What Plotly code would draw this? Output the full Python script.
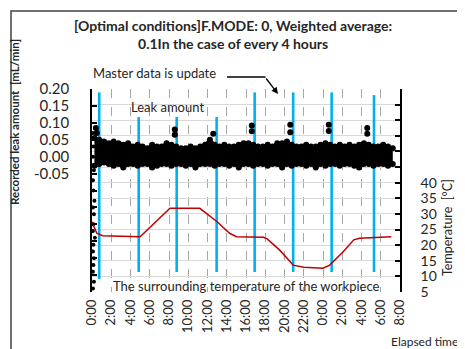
import plotly.graph_objects as go

# ---------------- data ----------------
x_tick_vals = [0, 2, 4, 6, 8, 10, 12, 14, 16, 18, 20, 22, 24, 26, 28, 30, 32]
x_tick_text = ["0:00", "2:00", "4:00", "6:00", "8:00", "10:00", "12:00", "14:00",
               "16:00", "18:00", "20:00", "22:00", "0:00", "2:00", "4:00", "6:00", "8:00"]

leak_tick_vals = [-0.4, -0.35, -0.3, -0.25, -0.2, -0.15, -0.1, -0.05, 0.0, 0.05, 0.1, 0.15, 0.2]
leak_tick_text = ["", "", "", "", "", "", "", "-0.05", "0.00", "0.05", "0.10", "0.15", "0.20"]

temp_tick_vals = [5, 10, 15, 20, 25, 30, 35, 40, 45, 50, 55, 60, 65, 70]
temp_tick_text = ["5", "10", "15", "20", "25", "30", "35", "40", "", "", "", "", "", ""]

# leak amount: envelope of the dense noise band (hours, mL/min)
band_t = [0.25, 0.75, 1.25, 1.75, 2.25, 2.75, 3.25, 3.75, 4.25, 4.75, 5.25, 5.75, 6.25, 6.75,
          7.25, 7.75, 8.25, 8.75, 9.25, 9.75, 10.25, 10.75, 11.25, 11.75, 12.25, 12.75, 13.25,
          13.75, 14.25, 14.75, 15.25, 15.75, 16.25, 16.75, 17.25, 17.75, 18.25, 18.75, 19.25,
          19.75, 20.25, 20.75, 21.25, 21.75, 22.25, 22.75, 23.25, 23.75, 24.25, 24.75, 25.25,
          25.75, 26.25, 26.75, 27.25, 27.75, 28.25, 28.75, 29.25, 29.75, 30.25, 30.75, 31.25]
band_upper = [0.055, 0.05, 0.045, 0.04, 0.045, 0.04, 0.035, 0.04,
              0.03, 0.035, 0.03, 0.025, 0.035, 0.03, 0.03, 0.04,
              0.035, 0.03, 0.025, 0.025, 0.03, 0.025, 0.03, 0.035,
              0.05, 0.035, 0.03, 0.035, 0.03, 0.03, 0.035, 0.04,
              0.04, 0.035, 0.03, 0.03, 0.035, 0.03, 0.04, 0.04,
              0.045, 0.035, 0.03, 0.03, 0.035, 0.03, 0.03, 0.035,
              0.04, 0.035, 0.03, 0.035, 0.03, 0.035, 0.03, 0.035,
              0.04, 0.035, 0.03, 0.03, 0.035, 0.03, 0.025]
band_lower = [-0.027, -0.022, -0.017, -0.022, -0.027, -0.022, -0.032, -0.022,
              -0.022, -0.027, -0.022, -0.022, -0.032, -0.027, -0.022, -0.022,
              -0.027, -0.022, -0.022, -0.027, -0.022, -0.032, -0.022, -0.022,
              -0.022, -0.027, -0.022, -0.022, -0.027, -0.022, -0.032, -0.022,
              -0.022, -0.027, -0.022, -0.022, -0.027, -0.022, -0.022, -0.032,
              -0.022, -0.027, -0.022, -0.022, -0.027, -0.022, -0.032, -0.022,
              -0.027, -0.022, -0.022, -0.027, -0.022, -0.022, -0.027, -0.032,
              -0.022, -0.022, -0.027, -0.022, -0.022, -0.027, -0.022]

# leak spikes and the start-up transient
spike_t = [0.4, 0.5, 8.6, 8.6, 12.6, 16.6, 16.6, 20.6, 20.6, 24.6, 24.6, 28.6, 28.6]
spike_v = [0.085, 0.07, 0.08, 0.065, 0.068, 0.092, 0.075, 0.094, 0.072, 0.094, 0.076, 0.085, 0.068]
start_t = [0.1, 0.15, 0.1, 0.2, 0.1, 0.15, 0.25, 0.1, 0.2, 0.15, 0.1, 0.3, 0.15, 0.1, 0.2, 0.15, 0.1, 0.2, 0.1]
start_v = [0.07, 0.03, 0.0, -0.04, -0.07, -0.1, -0.13, -0.15, -0.17, -0.2, -0.22, -0.24,
           -0.26, -0.28, -0.3, -0.32, -0.34, -0.37, -0.39]

# surrounding temperature (°C)
temp_t = [0.0, 0.5, 1.1, 4.8, 5.0, 8.1, 11.2, 13.0, 14.3, 15.0, 17.8, 18.2, 19.5, 20.6,
          20.9, 22.0, 24.0, 24.7, 26.1, 27.2, 27.8, 31.1]
temp_v = [27.5, 23.8, 23.0, 22.5, 22.7, 31.8, 31.8, 27.5, 23.8, 22.7, 22.5, 22.0, 18.4, 14.7,
          13.6, 12.9, 12.6, 13.6, 17.9, 21.7, 22.2, 22.7]

# master data update moments (hours) and the span of their marker lines (mL/min axis)
upd_t = [0.75, 4.85, 8.8, 12.95, 16.9, 20.9, 24.9, 29.3]
upd_top = [0.19, 0.117, 0.117, 0.117, 0.19, 0.19, 0.19, 0.182]
upd_bottom = [-0.362, -0.341, -0.341, -0.341, -0.341, -0.341, -0.341, -0.341]

# ---------------- figure ----------------
FONT = "Lato, Carlito, Calibri, 'Open Sans', sans-serif"
TXT = "#262626"

fig = go.Figure()

# update lines (blue)
ux, uy = [], []
for t, a, b in zip(upd_t, upd_top, upd_bottom):
    ux += [t, t, None]
    uy += [a, b, None]
fig.add_trace(go.Scatter(x=ux, y=uy, mode="lines", line=dict(color="#00b0f0", width=2.6),
                         hoverinfo="skip", showlegend=False))

# leak band
fig.add_trace(go.Scatter(x=band_t, y=band_lower, mode="lines+markers",
                         line=dict(color="black", width=3),
                         marker=dict(color="black", size=6), showlegend=False))
fig.add_trace(go.Scatter(x=band_t, y=band_upper, mode="lines+markers", fill="tonexty",
                         fillcolor="black", line=dict(color="black", width=3),
                         marker=dict(color="black", size=6), showlegend=False))
fig.add_trace(go.Scatter(x=spike_t, y=spike_v, mode="markers",
                         marker=dict(color="black", size=6), showlegend=False))
fig.add_trace(go.Scatter(x=start_t, y=start_v, mode="markers",
                         marker=dict(color="black", size=4), showlegend=False))

# temperature
fig.add_trace(go.Scatter(x=temp_t, y=temp_v, yaxis="y2", mode="lines",
                         line=dict(color="#c00000", width=1.5), showlegend=False))

# The page body has an 8px margin, so the figure is drawn 8px smaller and
# positions below are given in screen pixels of the 465x349 window.
OFF = 8
W, H = 465 - OFF, 349 - OFF
L, R, T, B = 92, 400, 89, 292          # plot area, screen pixels
def px(x):
    return (x - L) / (R - L)
def py(y):
    return (B - y) / (B - T)

annotations = [
    dict(text="<b>[Optimal conditions]F.MODE: 0, Weighted average:<br>0.1In the case of every 4 hours</b>",
         x=px(233), y=py(34), font=dict(size=14, color=TXT)),
    dict(text="<b>Recorded leak amount  [mL/min]</b>", x=px(14), y=py(122), textangle=-90,
         font=dict(size=11.5, color=TXT)),
    dict(text="Temperature  [°C]", x=px(447), y=py(228), textangle=-90,
         font=dict(size=12.5, color=TXT)),
    dict(text="Elapsed time", x=px(424), y=py(341), font=dict(size=12, color=TXT)),
    dict(text="Master data is update", x=px(154), y=py(73), font=dict(size=13, color=TXT)),
    dict(text="Leak amount", x=px(167), y=py(107), font=dict(size=13, color=TXT)),
    dict(text="The surrounding temperature of the workpiece", x=px(246), y=py(286),
         font=dict(size=13, color=TXT)),
]
for a in annotations:
    a.update(xref="paper", yref="paper", showarrow=False, xanchor="center", yanchor="middle")

# arrow head segment
annotations.append(dict(x=px(278), y=py(94), xref="paper", yref="paper", text="",
                        showarrow=True, arrowhead=2, arrowsize=1, arrowwidth=1.3,
                        arrowcolor="black", ax=-13, ay=-17))

shapes = [
    dict(type="line", xref="paper", yref="paper", x0=px(227), x1=px(265.5), y0=py(77), y1=py(77),
         line=dict(color="black", width=1.3)),
    dict(type="rect", xref="paper", yref="paper", x0=px(11), x1=px(480), y0=py(365), y1=py(11),
         line=dict(color="#404040", width=1.5), layer="below"),
]

fig.update_layout(
    width=W, height=H,
    margin=dict(l=L - OFF, r=(W + OFF) - R, t=T - OFF, b=(H + OFF) - B, pad=0),
    paper_bgcolor="white", plot_bgcolor="white",
    font=dict(family=FONT, color=TXT),
    showlegend=False,
    annotations=annotations,
    shapes=shapes,
    xaxis=dict(range=[0, 32], tickvals=x_tick_vals, ticktext=x_tick_text, tickangle=-90,
               tickfont=dict(size=13, color=TXT), showgrid=True, gridcolor="#a6a6a6",
               griddash="dash", gridwidth=1, showline=False, zeroline=False, ticks="",
               ticklabelstandoff=4, fixedrange=True),
    yaxis=dict(range=[-0.4, 0.2], tickvals=leak_tick_vals, ticktext=leak_tick_text,
               tickfont=dict(size=15, color=TXT), showgrid=False, zeroline=False,
               showline=True, linecolor="black", linewidth=1.5, ticks="inside",
               ticklen=5, tickwidth=1.5, tickcolor="black", ticklabelstandoff=18),
    yaxis2=dict(range=[5, 70], tickvals=temp_tick_vals, ticktext=temp_tick_text,
                overlaying="y", side="right", tickfont=dict(size=14, color=TXT),
                showgrid=True, gridcolor="#d9d9d9", gridwidth=1, zeroline=False,
                showline=True, linecolor="black", linewidth=1.5, ticks="inside",
                ticklen=5, tickwidth=1.5, tickcolor="black", ticklabelstandoff=16),
)

fig.write_html("out.html")
